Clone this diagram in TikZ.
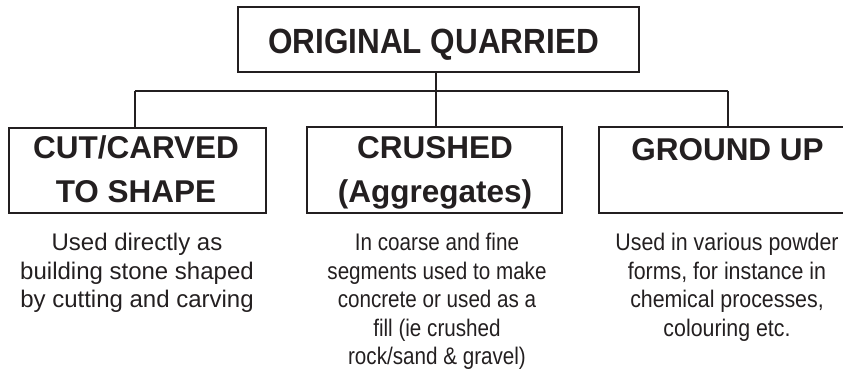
\documentclass[tikz,border=0pt]{standalone}
\usepackage{fontspec}
\setmainfont{Liberation Sans}
\newfontfamily\titlefam[FakeStretch=0.9]{Liberation Sans Bold}
\newfontfamily\boldfam{Liberation Sans Bold}
\newfontfamily\normfam{Liberation Sans}
\newfontfamily\narrowA[FakeStretch=0.86]{Liberation Sans}
\newfontfamily\narrowB[FakeStretch=0.89]{Liberation Sans}
\definecolor{ink}{HTML}{231F20}
\begin{document}
\begin{tikzpicture}[x=1pt,y=-1pt,
  boxline/.style={draw=ink,line width=1.2pt},
  conn/.style={draw=ink,line width=1.2pt},
  title/.style={text=ink,font=\boldfam\fontsize{31.5}{44}\selectfont,inner sep=0pt,anchor=base,align=center},
  desc/.style={text=ink,inner sep=0pt,anchor=north,align=center}]
\useasboundingbox (0,0) rectangle (843,372);
% boxes
\draw[boxline] (238,7) rectangle (639,72);
\draw[boxline] (9,128) rectangle (266,213);
\draw[boxline] (307,127) rectangle (562,213);
\draw[boxline] (850,127) -- (599,127) -- (599,213) -- (850,213);
% titles
\node[title,font=\titlefam\fontsize{35}{40}\selectfont] (top) at (433.5,53) {ORIGINAL QUARRIED};
\node[title] (cut) at (136,202) {CUT/CARVED\\TO SHAPE};
\node[title] (cru) at (435,202) {CRUSHED\\(Aggregates)};
\node[title] (gro) at (727.5,160) {GROUND UP};
% connectors
\coordinate (t) at (436,72);
\coordinate (j) at (436,91);
\coordinate (l) at (135,91);
\coordinate (r) at (728,91);
\coordinate (lb) at (135,128);
\coordinate (mb) at (436,127);
\coordinate (rb) at (728,127);
\draw[conn] (t) -- (j);
\draw[conn] (l) -- (r);
\draw[conn] (l) -- (lb);
\draw[conn] (j) -- (mb);
\draw[conn] (r) -- (rb);
% descriptions
\node[desc,font=\normfam\fontsize{24}{28.5}\selectfont] (d1) at (137,233) {Used directly as\\building stone shaped\\by cutting and carving};
\node[desc,font=\narrowA\fontsize{24}{28.5}\selectfont] (d2) at (437,233) {In coarse and fine\\segments used to make\\concrete or used as a\\fill (ie crushed\\rock/sand \& gravel)};
\node[desc,font=\narrowB\fontsize{24}{28.5}\selectfont] (d3) at (727,233) {Used in various powder\\forms, for instance in\\chemical processes,\\colouring etc.};
\end{tikzpicture}
\end{document}
